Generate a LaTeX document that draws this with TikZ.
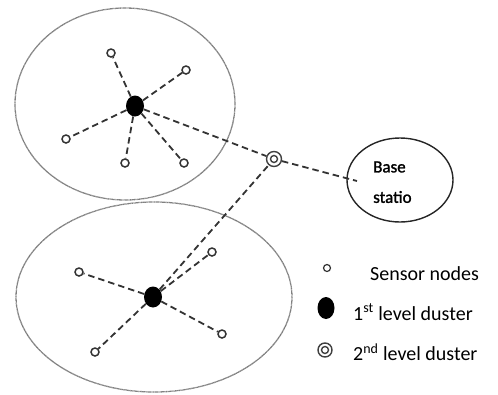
\documentclass[tikz,border=0pt]{standalone}
\usepackage{fontspec}
\setmainfont{Carlito}
\usetikzlibrary{shapes.geometric}
\begin{document}
\begin{tikzpicture}[x=1pt,y=-1pt,
  region/.style={draw=black!50, line width=1.3pt, dash pattern=on 0.9pt off 0.4pt},
  sensor/.style={circle, draw=black!80, line width=1.5pt, inner sep=0pt, minimum size=8pt, fill=white},
  head/.style={ellipse, fill=black, inner sep=0pt, minimum width=18pt, minimum height=21pt},
  second/.style={circle, draw=black!75, line width=1.4pt, inner sep=0pt, minimum size=15pt, fill=white,
     path picture={\draw[black!75, line width=1.4pt] (path picture bounding box.center) circle (3.5pt);}},
  link/.style={draw=black!80, line width=1.8pt, dash pattern=on 6.5pt off 4pt},
  lbl/.style={font=\fontsize{20}{23}\selectfont, anchor=west, inner sep=0pt}
]
\useasboundingbox (0,0) rectangle (498,394);
% cluster regions
\draw[region] (125,104) ellipse [x radius=110, y radius=96];
\draw[region] (154,297) ellipse [x radius=138, y radius=95];
% base station
\draw[black!85, line width=1.4pt] (400,180) ellipse [x radius=53, y radius=42];
\node[font=\fontsize{17}{20}\selectfont\addfontfeatures{FakeBold=1.5}, anchor=west, inner sep=0pt] (bs1) at (373,167) {Base};
\node[font=\fontsize{17}{20}\selectfont\addfontfeatures{FakeBold=1.5}, anchor=west, inner sep=0pt] (bs2) at (373,197) {statio};
\coordinate (bsend) at (357,181);
% top cluster
\node[head] (h1) at (135,106) {};
\node[sensor] (s1) at (111,53) {};
\node[sensor] (s2) at (186,70) {};
\node[sensor] (s3) at (66,139) {};
\node[sensor] (s4) at (125,163) {};
\node[sensor] (s5) at (184,163) {};
% bottom cluster
\node[head] (h2) at (153,297) {};
\node[sensor] (t1) at (79,272) {};
\node[sensor] (t2) at (212,252) {};
\node[sensor] (t3) at (222,334) {};
\node[sensor] (t4) at (95,352) {};
% second level
\node[second] (g) at (274,159) {};
% links
\foreach \s in {s1,s2,s3,s4,s5} \draw[link] (h1) -- (\s);
\foreach \s in {t1,t2,t3,t4} \draw[link] (h2) -- (\s);
\draw[link] (h1) -- (g);
\draw[link] (h2) -- (g);
\draw[link] (g) -- (bsend);
% legend
\node[sensor, minimum size=7pt, line width=1.2pt] (l1) at (327,268) {};
\node[lbl] (l1t) at (370,274) {Sensor nodes};
\node[head, minimum width=17pt, minimum height=22pt] (l2) at (326,308) {};
\node[lbl] (l2t) at (353,312) {1\textsuperscript{st} level duster};
\node[second, minimum size=14pt] (l3) at (325,350) {};
\node[lbl] (l3t) at (353,352) {2\textsuperscript{nd} level duster};
\end{tikzpicture}
\end{document}
